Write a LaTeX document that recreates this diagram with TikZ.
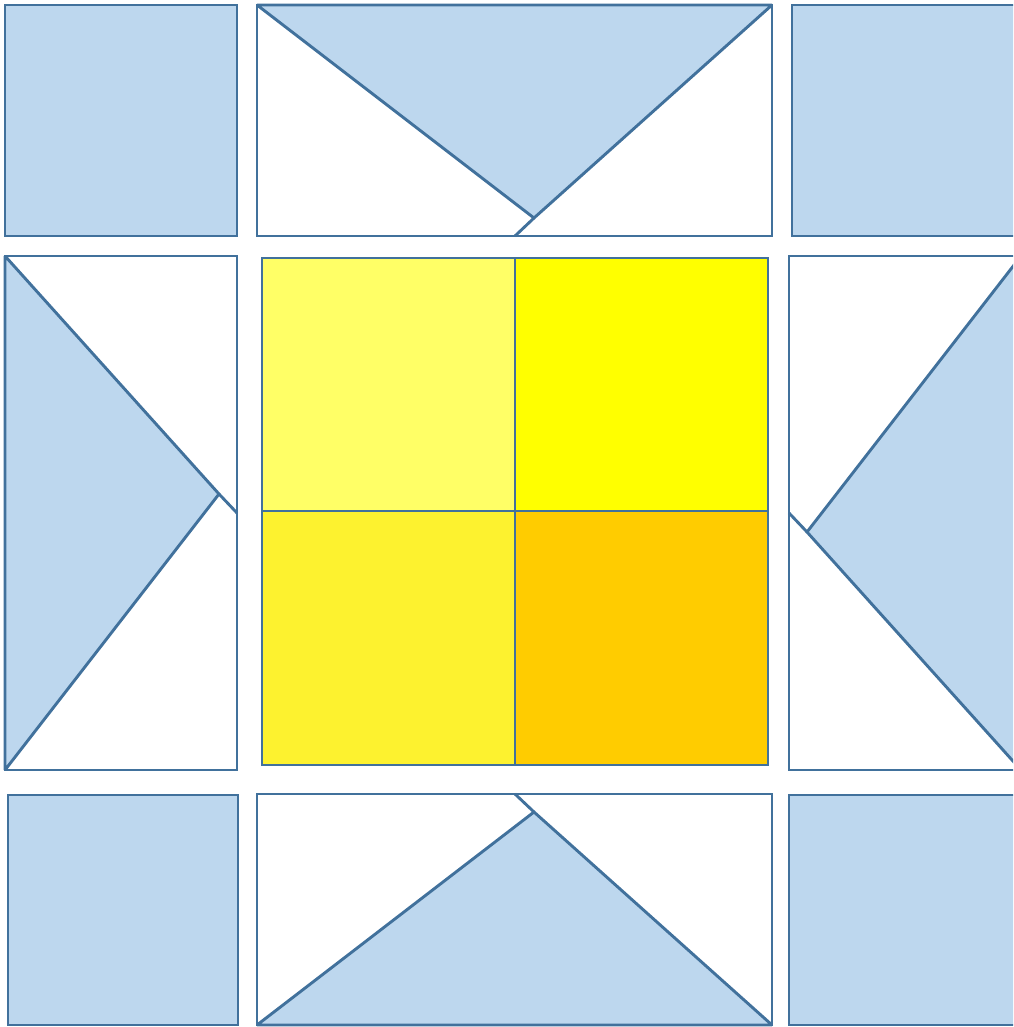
\documentclass[tikz,border=0pt]{standalone}
\definecolor{qblue}{HTML}{BDD7EE}
\definecolor{qline}{HTML}{41719C}
\definecolor{yA}{HTML}{FFFF66}
\definecolor{yB}{HTML}{FFFF00}
\definecolor{yC}{HTML}{FDF22F}
\definecolor{yD}{HTML}{FFCC00}
\tikzset{
  piece/.style={draw=qline, line width=2.9pt, line join=miter},
  bluepiece/.style={piece, fill=qblue},
  whitepiece/.style={piece, fill=white},
  trianglepiece/.style={piece, fill=qblue, line join=bevel},
}
\begin{document}
\begin{tikzpicture}[x=1pt,y=-1pt]
\useasboundingbox (0,0) rectangle (1013,1027);
\clip (0,0) rectangle (1013,1027);
% corner squares
\draw[bluepiece] (5,5) rectangle (237,236);
\draw[bluepiece] (792,5) rectangle (1024,236);
\draw[bluepiece] (8,795) rectangle (238,1025);
\draw[bluepiece] (789,795) rectangle (1024,1025);
% top block
\draw[whitepiece] (257,5) rectangle (772,236);
\draw[trianglepiece] (257,5) -- (772,5) -- (534,218) -- cycle;
\draw[piece] (534,218) -- (515,236);
% bottom block
\draw[whitepiece] (257,794) rectangle (772,1025);
\draw[trianglepiece] (257,1025) -- (772,1025) -- (534,812) -- cycle;
\draw[piece] (534,812) -- (515,794);
% left block
\draw[whitepiece] (5,256) rectangle (237,770);
\draw[trianglepiece] (5,256) -- (219,494) -- (5,770) -- cycle;
\draw[piece] (219,494) -- (237,513);
% right block
\draw[whitepiece] (789,256) rectangle (1021,770);
\draw[trianglepiece] (1021,256) -- (807,532) -- (1021,770) -- cycle;
\draw[piece] (807,532) -- (789,513);
% centre
\draw[piece, fill=yA] (262,258) rectangle (515,511);
\draw[piece, fill=yB] (515,258) rectangle (768,511);
\draw[piece, fill=yC] (262,511) rectangle (515,765);
\draw[piece, fill=yD] (515,511) rectangle (768,765);
\end{tikzpicture}
\end{document}
